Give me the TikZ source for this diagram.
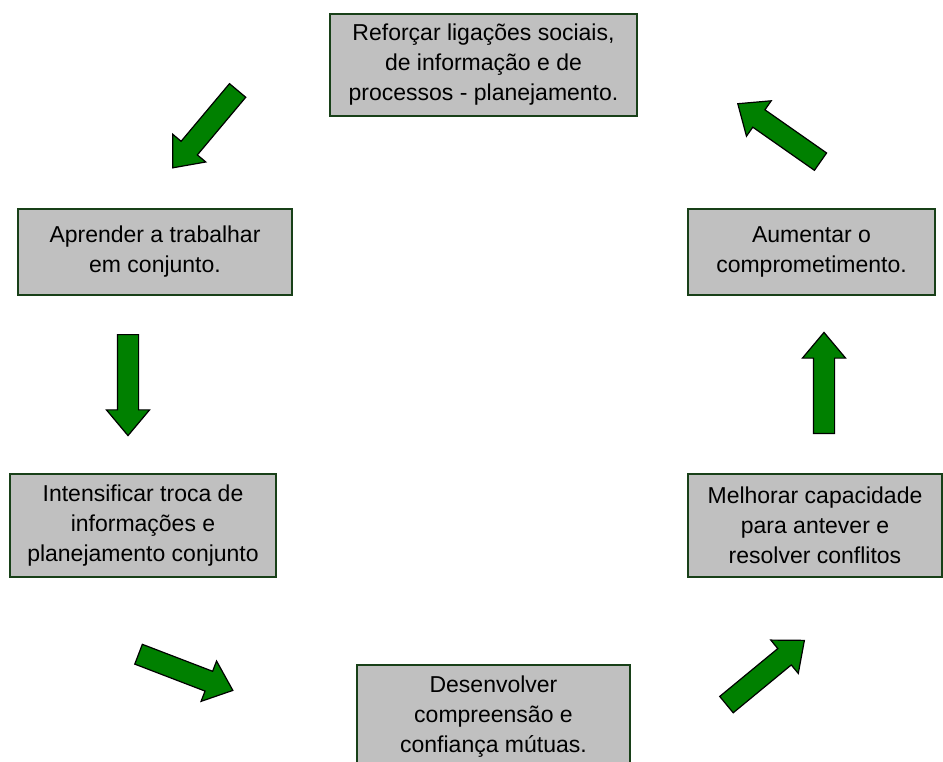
\documentclass[tikz,border=0pt]{standalone}
\usepackage{fontspec}
\setmainfont{Liberation Sans}
\usetikzlibrary{shapes.arrows}
\definecolor{boxgray}{RGB}{192,192,192}
\definecolor{boxedge}{RGB}{24,64,24}
\definecolor{arrowgreen}{RGB}{0,128,0}
\tikzstyle{stage}=[draw=boxedge, fill=boxgray, line width=1.2pt, align=center, inner sep=0pt, font=\fontsize{23}{30}\selectfont]
\tikzstyle{cyclearrow}=[single arrow, draw=black, fill=arrowgreen, line width=1.2pt, inner sep=10pt, minimum height=101pt, single arrow head extend=11pt, single arrow tip angle=80, anchor=tail]

\begin{document}
\begin{tikzpicture}[x=1pt, y=-1pt]
\useasboundingbox (0,0) rectangle (943,762);
% Stages
    \node[stage, minimum width=307pt, minimum height=102pt] (reforcar) at (483.5,65) {Reforçar ligações sociais,\\de informação e de\\processos - planejamento.};
    \node[stage, minimum width=274pt, minimum height=86pt] (aprender) at (155,252) {Aprender a trabalhar\\em conjunto.};
    \node[stage, minimum width=266pt, minimum height=103pt] (intensificar) at (143,525.5) {Intensificar troca de\\informações e\\planejamento conjunto};
    \node[stage, minimum width=273pt, minimum height=103pt] (desenvolver) at (493.5,716.5) {Desenvolver\\compreensão e\\confiança mútuas.};
    \node[stage, minimum width=254pt, minimum height=103pt] (melhorar) at (815,525.5) {Melhorar capacidade\\para antever e\\resolver conflitos};
    \node[stage, minimum width=247pt, minimum height=86pt] (aumentar) at (811.5,252) {Aumentar o\\comprometimento.};
% Arrows between stages
    \node[cyclearrow, rotate=230] (toaprender) at (238,90) {};
    \node[cyclearrow, rotate=270] (tointensificar) at (128,334) {};
    \node[cyclearrow, rotate=-21] (todesenvolver) at (138,654) {};
    \node[cyclearrow, rotate=39.5] (tomelhorar) at (726,705) {};
    \node[cyclearrow, rotate=90] (toaumentar) at (824,434) {};
    \node[cyclearrow, rotate=145] (toreforcar) at (821,162) {};
\end{tikzpicture}
\end{document}
